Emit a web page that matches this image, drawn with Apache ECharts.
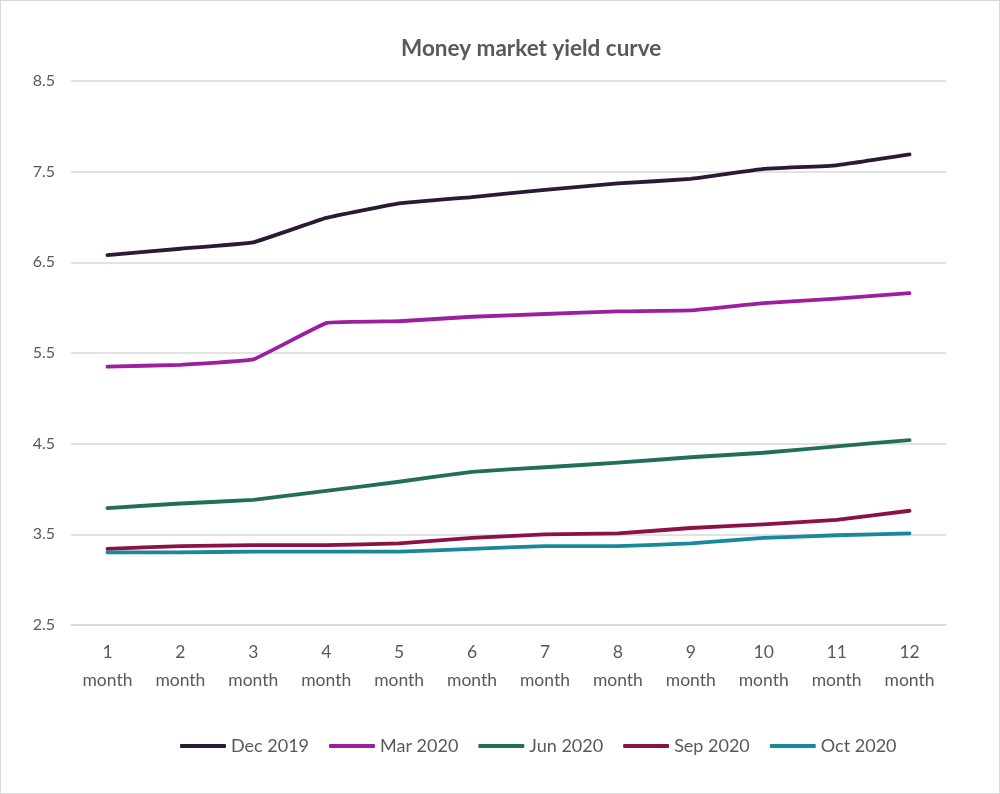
<!DOCTYPE html>
<html><head><meta charset="utf-8">
<script src="https://cdn.jsdelivr.net/npm/echarts@6/dist/echarts.min.js"></script>
<style>html,body{margin:0;padding:0;background:#fff}#c{width:1000px;height:794px;box-sizing:border-box;border:1px solid #d9d9d9}</style>
</head><body><div id="c"></div>
<script>
const categories = ['1\nmonth','2\nmonth','3\nmonth','4\nmonth','5\nmonth','6\nmonth','7\nmonth','8\nmonth','9\nmonth','10\nmonth','11\nmonth','12\nmonth'];
const dec2019 = [6.58,6.65,6.72,6.99,7.15,7.22,7.30,7.37,7.42,7.53,7.57,7.69];
const mar2020 = [5.35,5.37,5.43,5.83,5.85,5.90,5.93,5.96,5.97,6.05,6.10,6.16];
const jun2020 = [3.79,3.84,3.88,3.98,4.08,4.19,4.24,4.29,4.35,4.40,4.47,4.54];
const sep2020 = [3.34,3.37,3.38,3.38,3.40,3.46,3.50,3.51,3.57,3.61,3.66,3.76];
const oct2020 = [3.30,3.30,3.31,3.31,3.31,3.34,3.37,3.37,3.40,3.46,3.49,3.51];
const seriesNames = ['Dec 2019','Mar 2020','Jun 2020','Sep 2020','Oct 2020'];
const colors = ['#2b1a35','#9c1fa0','#236d5d','#8b1146','#17899b'];
const allData = [dec2019,mar2020,jun2020,sep2020,oct2020];
const font = 'Lato, "Open Sans", sans-serif';
const chart = echarts.init(document.getElementById('c'));
chart.setOption({
  animation:false,
  color:colors,
  title:{text:'Money market yield curve',left:395,top:31,textStyle:{fontFamily:font,fontSize:22.5,fontWeight:'bold',color:'#595959'}},
  grid:{left:70,right:53,top:80,bottom:168,containLabel:false},
  legend:{bottom:33,left:174,itemWidth:46,itemHeight:4,itemGap:20,icon:'roundRect',
    textStyle:{fontFamily:font,fontSize:18,color:'#595959'},data:seriesNames},
  xAxis:{type:'category',data:categories,boundaryGap:true,
    axisLine:{lineStyle:{color:'#d9d9d9',width:1.5}},axisTick:{show:false},
    axisLabel:{fontFamily:font,fontSize:17.5,color:'#595959',lineHeight:28,margin:13,interval:0}},
  yAxis:{type:'value',min:2.5,max:8.5,interval:1,
    axisLine:{show:false},axisTick:{show:false},
    splitLine:{lineStyle:{color:'#d9d9d9',width:1.5}},
    axisLabel:{fontFamily:font,fontSize:16,color:'#595959',margin:16,formatter:v=>v.toFixed(1)}},
  series:allData.map((d,i)=>({name:seriesNames[i],type:'line',data:d,symbol:'none',smooth:0.08,
    lineStyle:{width:3.8,color:colors[i],cap:'round',join:'round'}}))
});
</script></body></html>
